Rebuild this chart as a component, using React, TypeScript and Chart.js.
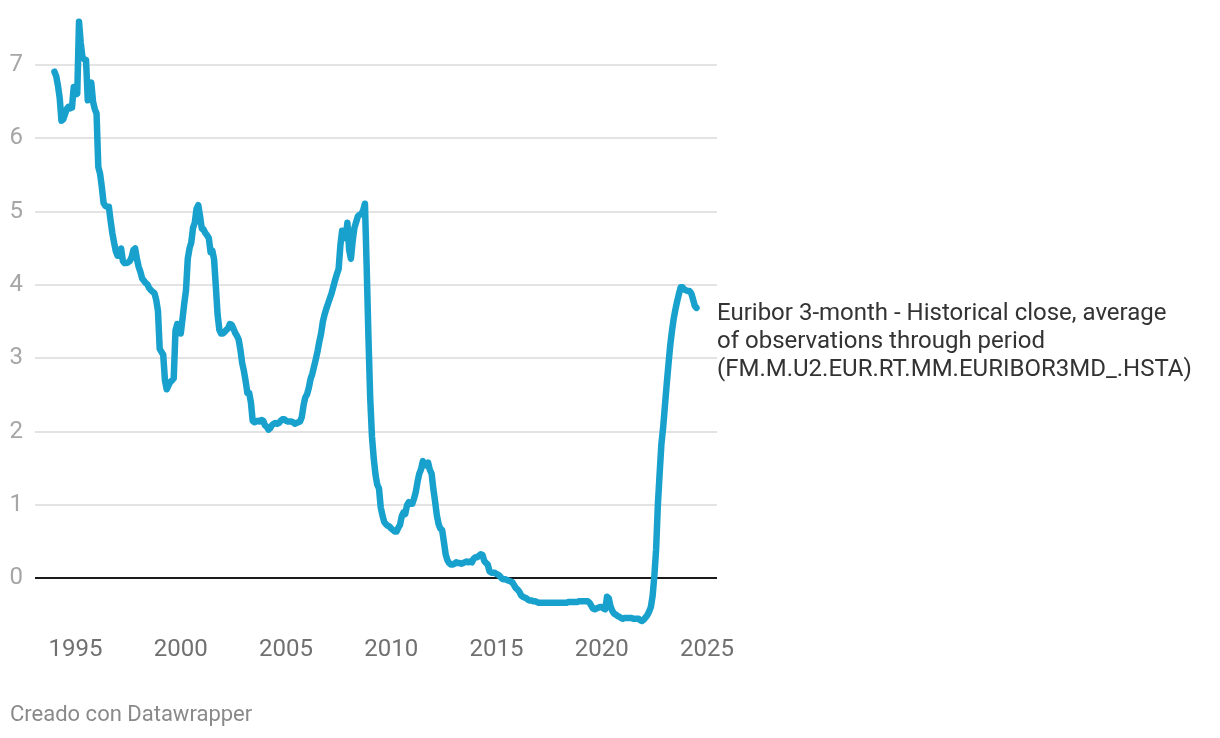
import React, { useEffect, useRef } from "react";
import { Chart, registerables } from "chart.js";

Chart.register(...registerables);

// Monthly averages of the 3-month Euribor, January 1994 – July 2024 (percent)
const startYear = 1994;
const r1994 = [6.91, 6.85, 6.72, 6.55, 6.24, 6.26, 6.33, 6.4, 6.43, 6.41, 6.42, 6.7];
const r1995 = [6.6, 6.61, 7.59, 7.3, 7.1, 7.08, 7.07, 6.52, 6.68, 6.76, 6.5, 6.4];
const r1996 = [6.34, 5.61, 5.52, 5.34, 5.12, 5.08, 5.07, 5.07, 4.88, 4.71, 4.58, 4.46];
const r1997 = [4.4, 4.4, 4.5, 4.33, 4.3, 4.3, 4.31, 4.33, 4.38, 4.48, 4.5, 4.36];
const r1998 = [4.25, 4.18, 4.09, 4.06, 4.03, 4.01, 3.96, 3.93, 3.91, 3.89, 3.8, 3.65];
const r1999 = [3.13, 3.09, 3.05, 2.7, 2.58, 2.63, 2.68, 2.7, 2.73, 3.38, 3.47, 3.44];
const r2000 = [3.34, 3.54, 3.75, 3.93, 4.36, 4.5, 4.58, 4.78, 4.85, 5.04, 5.09, 4.94];
const r2001 = [4.77, 4.76, 4.71, 4.68, 4.64, 4.45, 4.47, 4.35, 3.98, 3.6, 3.39, 3.34];
const r2002 = [3.34, 3.36, 3.39, 3.41, 3.47, 3.46, 3.41, 3.35, 3.31, 3.26, 3.12, 2.94];
const r2003 = [2.83, 2.69, 2.53, 2.53, 2.4, 2.15, 2.13, 2.14, 2.15, 2.14, 2.16, 2.15];
const r2004 = [2.09, 2.07, 2.03, 2.05, 2.09, 2.11, 2.12, 2.11, 2.12, 2.15, 2.17, 2.17];
const r2005 = [2.15, 2.14, 2.14, 2.14, 2.13, 2.11, 2.12, 2.13, 2.14, 2.2, 2.36, 2.47];
const r2006 = [2.51, 2.6, 2.72, 2.79, 2.89, 2.99, 3.1, 3.23, 3.34, 3.5, 3.6, 3.68];
const r2007 = [3.75, 3.82, 3.89, 3.98, 4.07, 4.15, 4.22, 4.54, 4.74, 4.69, 4.64, 4.85];
const r2008 = [4.48, 4.36, 4.6, 4.78, 4.86, 4.94, 4.96, 4.97, 5.02, 5.11, 4.24, 3.29];
const r2009 = [2.46, 1.94, 1.64, 1.42, 1.28, 1.23, 0.97, 0.86, 0.77, 0.74, 0.72, 0.71];
const r2010 = [0.68, 0.66, 0.64, 0.64, 0.69, 0.73, 0.85, 0.9, 0.88, 1.0, 1.04, 1.02];
const r2011 = [1.02, 1.09, 1.18, 1.32, 1.43, 1.49, 1.6, 1.55, 1.54, 1.58, 1.48, 1.43];
const r2012 = [1.22, 1.05, 0.86, 0.74, 0.68, 0.66, 0.5, 0.33, 0.25, 0.21, 0.19, 0.19];
const r2013 = [0.2, 0.22, 0.21, 0.21, 0.2, 0.21, 0.22, 0.23, 0.22, 0.23, 0.22, 0.27];
const r2014 = [0.29, 0.29, 0.31, 0.33, 0.32, 0.24, 0.21, 0.19, 0.1, 0.08, 0.08, 0.08];
const r2015 = [0.06, 0.05, 0.03, 0.0, -0.01, -0.01, -0.02, -0.03, -0.04, -0.05, -0.09, -0.13];
const r2016 = [-0.15, -0.18, -0.23, -0.25, -0.26, -0.27, -0.29, -0.3, -0.3, -0.31, -0.31, -0.32];
const r2017 = [-0.33, -0.33, -0.33, -0.33, -0.33, -0.33, -0.33, -0.33, -0.33, -0.33, -0.33, -0.33];
const r2018 = [-0.33, -0.33, -0.33, -0.33, -0.33, -0.32, -0.32, -0.32, -0.32, -0.32, -0.32, -0.31];
const r2019 = [-0.31, -0.31, -0.31, -0.31, -0.31, -0.33, -0.37, -0.41, -0.42, -0.41, -0.4, -0.39];
const r2020 = [-0.39, -0.41, -0.42, -0.25, -0.27, -0.38, -0.44, -0.48, -0.49, -0.51, -0.52, -0.54];
const r2021 = [-0.55, -0.54, -0.54, -0.54, -0.54, -0.54, -0.55, -0.55, -0.55, -0.55, -0.57, -0.58];
const r2022 = [-0.56, -0.53, -0.5, -0.45, -0.39, -0.24, 0.04, 0.4, 1.01, 1.43, 1.83, 2.06];
const r2023 = [2.35, 2.64, 2.91, 3.17, 3.37, 3.54, 3.67, 3.78, 3.88, 3.97, 3.97, 3.94];
const r2024 = [3.93, 3.92, 3.92, 3.89, 3.81, 3.72, 3.69];

const yearlyRates = [
  r1994, r1995, r1996, r1997, r1998, r1999, r2000, r2001, r2002, r2003, r2004,
  r2005, r2006, r2007, r2008, r2009, r2010, r2011, r2012, r2013, r2014, r2015,
  r2016, r2017, r2018, r2019, r2020, r2021, r2022, r2023, r2024,
];

const xTickYears = [1995, 2000, 2005, 2010, 2015, 2020, 2025];
const yTickValues = [0, 1, 2, 3, 4, 5, 6, 7];
const seriesLabelLines = [
  "Euribor 3-month - Historical close, average",
  "of observations through period",
  "(FM.M.U2.EUR.RT.MM.EURIBOR3MD_.HSTA)",
];
const creditText = "Creado con Datawrapper";

function buildPoints() {
  const pts: { x: number; y: number }[] = [];
  yearlyRates.forEach((arr, i) => {
    arr.forEach((v, m) => pts.push({ x: startYear + i + m / 12, y: v }));
  });
  return pts;
}

const FONT = "Roboto, 'Noto Sans', sans-serif";

export default function App() {
  const canvasRef = useRef<HTMLCanvasElement | null>(null);

  useEffect(() => {
    const canvas = canvasRef.current;
    if (!canvas) return;
    const chart = new Chart(canvas, {
      type: "line",
      data: {
        datasets: [
          {
            data: buildPoints(),
            borderColor: "#18a1cd",
            borderWidth: 6.5,
            pointRadius: 0,
            pointHoverRadius: 0,
            tension: 0,
            fill: false,
            borderCapStyle: "round",
            borderJoinStyle: "round",
          },
        ],
      },
      options: {
        animation: false,
        responsive: false,
        maintainAspectRatio: false,
        layout: { padding: { left: 0, right: 503, top: 10, bottom: 0 } },
        plugins: {
          legend: { display: false },
          tooltip: { enabled: false },
        },
        scales: {
          x: {
            type: "linear",
            min: 1993.076,
            max: 2025.475,
            grid: { display: false },
            border: { display: false },
            afterBuildTicks: (s: any) => {
              s.ticks = xTickYears.map((v) => ({ value: v }));
            },
            afterFit: (s: any) => {
              s.height = 110;
              s.paddingLeft = 0;
              s.paddingRight = 0;
            },
            ticks: {
              autoSkip: false,
              maxRotation: 0,
              padding: 0,
              color: "#707070",
              font: { family: FONT, size: 24 },
              callback: (v: any) => String(v),
            },
          },
          y: {
            type: "linear",
            min: -0.675,
            max: 7.751,
            border: { display: false },
            afterBuildTicks: (s: any) => {
              s.ticks = yTickValues.map((v) => ({ value: v }));
            },
            afterFit: (s: any) => {
              s.width = 35;
              s.paddingTop = 0;
              s.paddingBottom = 0;
            },
            grid: {
              drawTicks: false,
              color: (ctx: any) => (ctx.tick && ctx.tick.value === 0 ? "#1a1a1a" : "#e3e3e3"),
              lineWidth: 2,
            },
            ticks: {
              padding: 12,
              color: "#a6a6a6",
              font: { family: FONT, size: 24 },
              callback: (v: any) => String(v),
            },
          },
        },
      },
    } as any);
    return () => chart.destroy();
  }, []);

  return (
    <div
      style={{
        position: "absolute",
        left: 0,
        top: 0,
        width: 1220,
        height: 738,
        background: "#ffffff",
        fontFamily: FONT,
        overflow: "hidden",
      }}
    >
      <canvas ref={canvasRef} width={1220} height={738} style={{ position: "absolute", left: 0, top: 0, width: 1220, height: 738 }} />
      <div
        style={{
          position: "absolute",
          left: 717,
          top: 298,
          fontSize: 24,
          lineHeight: "28px",
          color: "#333333",
          whiteSpace: "nowrap",
        }}
      >
        {seriesLabelLines.map((l, i) => (
          <div key={i}>{l}</div>
        ))}
      </div>
      <div
        style={{
          position: "absolute",
          left: 10,
          top: 702,
          fontSize: 22,
          lineHeight: "24px",
          color: "#8a8a8a",
          whiteSpace: "nowrap",
        }}
      >
        {creditText}
      </div>
    </div>
  );
}
